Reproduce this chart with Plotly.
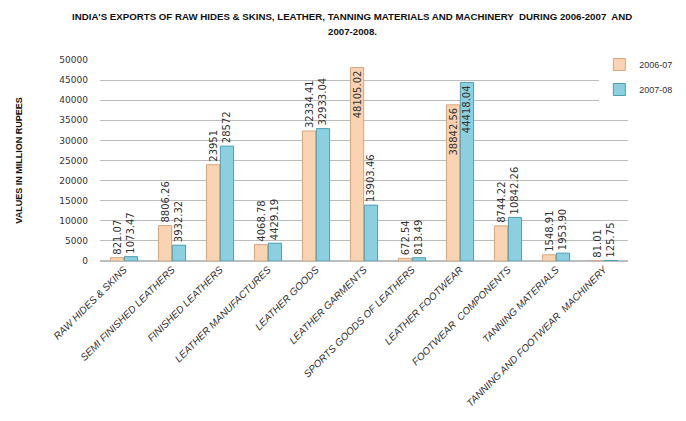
import plotly.graph_objects as go

categories = ["RAW HIDES & SKINS", "SEMI FINISHED LEATHERS", "FINISHED LEATHERS",
              "LEATHER MANUFACTURES", "LEATHER GOODS", "LEATHER GARMENTS",
              "SPORTS GOODS OF LEATHERS", "LEATHER FOOTWEAR", "FOOTWEAR  COMPONENTS",
              "TANNING MATERIALS", "TANNING AND FOOTWEAR  MACHINERY"]
v2006 = [821.07, 8806.26, 23951, 4068.78, 32334.41, 48105.02, 672.54, 38842.56, 8744.22, 1548.91, 81.01]
v2007 = [1073.47, 3932.32, 28572, 4429.19, 32933.04, 13903.46, 813.49, 44418.04, 10842.26, 1953.90, 125.75]
lab2006 = ["821.07", "8806.26", "23951", "4068.78", "32334.41", "48105.02", "672.54", "38842.56", "8744.22", "1548.91", "81.01"]
lab2007 = ["1073.47", "3932.32", "28572", "4429.19", "32933.04", "13903.46", "813.49", "44418.04", "10842.26", "1953.90", "125.75"]
inside2006 = [False, False, False, False, False, True, False, True, False, False, False]
inside2007 = [False, False, False, False, False, False, False, True, False, False, False]
title_line1 = "INDIA'S EXPORTS OF RAW HIDES & SKINS, LEATHER, TANNING MATERIALS AND MACHINERY  DURING 2006-2007  AND"
title_line2 = "2007-2008."

lab_font = dict(family="DejaVu Sans", size=10, color="#333333")
title_font = dict(family="Liberation Sans Narrow, Liberation Sans", size=9.7, color="#111111", weight="bold")

W, H = 686, 421
L, R, T, B = 92, 66, 52, 168
PW, PH = W - L - R, H - T - B

fig = go.Figure()
fig.add_trace(go.Bar(
    name="2006-07", x=categories, y=v2006, text=lab2006, legendgroup="a",
    textposition=["inside" if i else "outside" for i in inside2006],
    textangle=-90, insidetextanchor="end", textfont=lab_font,
    insidetextfont=lab_font, outsidetextfont=lab_font,
    marker=dict(color="#FAD3B2", line=dict(color="#D8A57E", width=1)),
    cliponaxis=False,
))
fig.add_trace(go.Bar(
    name="2007-08", x=categories, y=v2007, text=lab2007, legendgroup="b",
    textposition=["inside" if i else "outside" for i in inside2007],
    textangle=-90, insidetextanchor="end", textfont=lab_font,
    insidetextfont=lab_font, outsidetextfont=lab_font,
    marker=dict(color="#8CCFE0", line=dict(color="#4E9EB3", width=1)),
    cliponaxis=False,
))

fig.update_layout(
    width=W, height=H,
    margin=dict(l=L, r=R, t=T, b=B, autoexpand=False),
    paper_bgcolor="white", plot_bgcolor="white",
    barmode="group", bargap=0.42, bargroupgap=0.05,
    uniformtext=dict(minsize=10, mode="show"),
    yaxis=dict(
        range=[0, 50000], dtick=5000, tickformat="d", showgrid=True, gridcolor="#BDBDBD", gridwidth=1,
        tickfont=dict(family="DejaVu Sans", size=9, color="#333333"),
        showline=False, zeroline=True, zerolinecolor="#BDBDBD", ticks="",
        ticklabelstandoff=11,
    ),
    xaxis=dict(
        tickangle=-45, showline=False, ticks="",
        tickfont=dict(family="Liberation Sans", size=10, color="#333333", style="italic"),
    ),
    legend=dict(xref="container", yref="container", x=0.862, y=1 - 42 / H, xanchor="left", yanchor="top",
                font=dict(family="Liberation Sans", size=9, color="#333333"),
                traceorder="grouped", tracegroupgap=6, itemwidth=30),
    annotations=[
        dict(text="VALUES IN MILLION RUPEES", xref="paper", yref="paper",
             x=-0.155 * 528 / PW, y=0.5, xanchor="center", yanchor="middle", textangle=-90, showarrow=False,
             font=dict(family="Liberation Sans", size=9, color="#111111", weight="bold")),
        dict(text=title_line1, xref="paper", yref="paper",
             x=(344 - L) / PW, y=1.0 + (T - 8) / PH, xanchor="center", yanchor="middle",
             showarrow=False, font=title_font),
        dict(text=title_line2, xref="paper", yref="paper",
             x=(344 - L) / PW, y=1.0 + (T - 23) / PH, xanchor="center", yanchor="middle",
             showarrow=False, font=title_font),
    ],
)
fig.write_html("out.html")
